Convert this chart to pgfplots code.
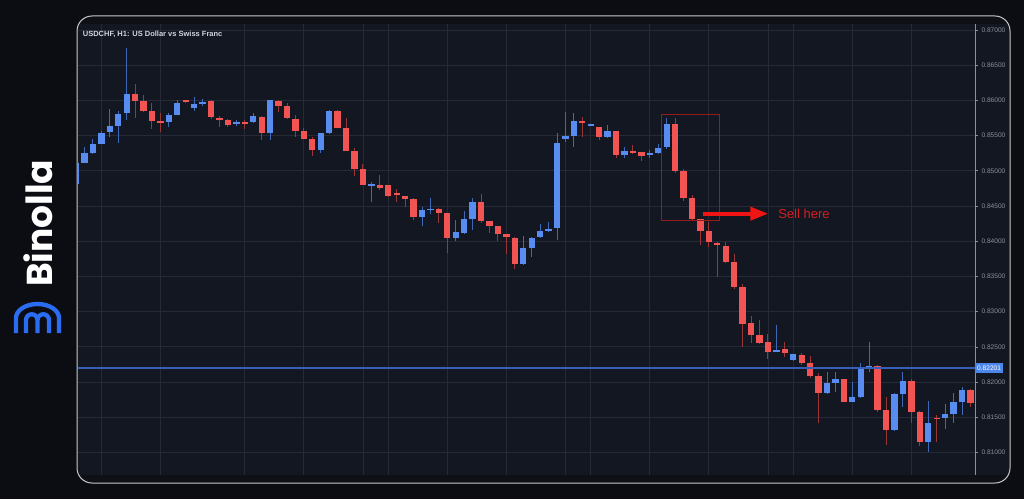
\documentclass[border=0pt]{standalone}
\usepackage{pgfplots}
\pgfplotsset{compat=1.18}
\usepackage{pgfplotstable}
\usepackage{fontspec}
\setmainfont{Liberation Sans}
\newfontfamily\poppins{Poppins}
\usetikzlibrary{arrows.meta}
\definecolor{pagebg}{RGB}{11,13,18}
\definecolor{stripbg}{RGB}{14,16,22}
\definecolor{chartbg}{RGB}{19,23,34}
\definecolor{gridc}{RGB}{38,42,55}
\definecolor{upc}{RGB}{88,140,240}
\definecolor{upw}{RGB}{62,104,185}
\definecolor{dnc}{RGB}{242,84,84}
\definecolor{dnw}{RGB}{155,54,54}
\definecolor{axlab}{RGB}{140,144,155}
\definecolor{titlec}{RGB}{210,213,220}
\definecolor{pricec}{RGB}{55,95,185}
\definecolor{pricebox}{RGB}{74,134,235}
\definecolor{boxc}{RGB}{150,28,28}
\definecolor{arrowc}{RGB}{240,20,20}
\definecolor{sellc}{RGB}{215,30,30}
\definecolor{logoblue}{RGB}{42,108,242}
\definecolor{framec}{RGB}{200,200,204}

% candles: index, open, high, low, close
\pgfplotstableread{
x o h l c
-1 0.84813 0.85125 0.84800 0.85115
0 0.85115 0.85342 0.85107 0.85249
1 0.85249 0.85447 0.85234 0.85381
2 0.85381 0.85570 0.85375 0.85541
3 0.85547 0.85874 0.85476 0.85636
4 0.85636 0.85849 0.85391 0.85807
5 0.85817 0.86744 0.85722 0.86091
10 0.85689 0.85821 0.85618 0.85793
11 0.85793 0.86006 0.85790 0.85967
13 0.85888 0.86044 0.85854 0.85953
14 0.85959 0.86024 0.85925 0.85977
18 0.85658 0.85722 0.85636 0.85689
20 0.85693 0.85817 0.85686 0.85778
22 0.85541 0.86006 0.85438 0.86001
28 0.85295 0.85537 0.85249 0.85533
29 0.85533 0.85864 0.85520 0.85854
34 0.84794 0.84837 0.84561 0.84808
40 0.84348 0.84482 0.84216 0.84439
41 0.84443 0.84618 0.84382 0.84462
44 0.84050 0.84301 0.84007 0.84126
45 0.84112 0.84429 0.84100 0.84315
46 0.84320 0.84610 0.84159 0.84561
52 0.83676 0.84078 0.83665 0.83899
53 0.83908 0.84062 0.83780 0.84053
54 0.84055 0.84240 0.84040 0.84145
55 0.84141 0.84277 0.84130 0.84178
56 0.84183 0.85533 0.84017 0.85399
57 0.85452 0.85839 0.85413 0.85490
58 0.85494 0.85817 0.85342 0.85707
60 0.85646 0.85670 0.85640 0.85665
62 0.85476 0.85651 0.85470 0.85561
64 0.85229 0.85342 0.85182 0.85286
67 0.85224 0.85295 0.85178 0.85257
68 0.85249 0.85376 0.85240 0.85328
69 0.85334 0.85750 0.85310 0.85669
82 0.82430 0.82810 0.82425 0.82455
84 0.82313 0.82395 0.82305 0.82393
88 0.81840 0.82138 0.81830 0.81990
89 0.81990 0.82146 0.81862 0.82043
91 0.81720 0.82004 0.81710 0.81791
92 0.81791 0.82266 0.81780 0.82203
93 0.82203 0.82572 0.82146 0.82227
96 0.81318 0.81840 0.81310 0.81825
97 0.81825 0.82138 0.81649 0.82014
100 0.81152 0.81730 0.81001 0.81418
102 0.81484 0.81688 0.81328 0.81541
103 0.81541 0.81848 0.81413 0.81720
104 0.81720 0.81933 0.81531 0.81891
}\upcandles

\pgfplotstableread{
x o h l c
6 0.86091 0.86233 0.85750 0.85991
7 0.85991 0.86077 0.85839 0.85854
8 0.85849 0.85959 0.85589 0.85707
9 0.85707 0.85825 0.85555 0.85683
12 0.86006 0.86013 0.85970 0.85973
15 0.85987 0.86006 0.85740 0.85760
16 0.85754 0.85783 0.85618 0.85717
17 0.85717 0.85730 0.85618 0.85658
19 0.85693 0.85722 0.85589 0.85675
21 0.85760 0.85778 0.85438 0.85541
23 0.85996 0.86006 0.85839 0.85925
24 0.85920 0.85967 0.85740 0.85746
25 0.85732 0.85793 0.85476 0.85570
26 0.85570 0.85604 0.85450 0.85456
27 0.85447 0.85476 0.85210 0.85295
30 0.85854 0.85864 0.85605 0.85612
31 0.85612 0.85746 0.85275 0.85281
32 0.85281 0.85320 0.84926 0.85026
33 0.85026 0.85097 0.84795 0.84803
35 0.84798 0.84940 0.84727 0.84763
36 0.84798 0.84805 0.84630 0.84638
37 0.84680 0.84737 0.84561 0.84652
38 0.84642 0.84650 0.84490 0.84604
39 0.84604 0.84612 0.84301 0.84348
42 0.84462 0.84470 0.84254 0.84396
43 0.84396 0.84400 0.83828 0.84041
47 0.84561 0.84670 0.84263 0.84287
48 0.84287 0.84290 0.84112 0.84216
49 0.84216 0.84220 0.84007 0.84107
50 0.84102 0.84110 0.83814 0.84060
51 0.84050 0.84060 0.83601 0.83680
59 0.85707 0.85768 0.85484 0.85679
61 0.85618 0.85625 0.85438 0.85480
63 0.85561 0.85570 0.85178 0.85229
65 0.85286 0.85366 0.85239 0.85257
66 0.85263 0.85265 0.85143 0.85210
70 0.85669 0.85750 0.84964 0.84997
71 0.84997 0.85033 0.84578 0.84621
72 0.84618 0.84656 0.84305 0.84315
73 0.84315 0.84320 0.83942 0.84149
74 0.84145 0.84277 0.83913 0.83984
75 0.83982 0.83990 0.83496 0.83943
76 0.83936 0.83993 0.83695 0.83705
77 0.83700 0.83818 0.83321 0.83354
78 0.83354 0.83388 0.82501 0.82824
79 0.82834 0.82938 0.82558 0.82668
80 0.82663 0.82881 0.82548 0.82558
81 0.82568 0.82678 0.82322 0.82426
83 0.82465 0.82564 0.82359 0.82408
85 0.82384 0.82408 0.82242 0.82277
86 0.82274 0.82369 0.82053 0.82092
87 0.82092 0.82132 0.81413 0.81848
90 0.82043 0.82050 0.81710 0.81720
94 0.82232 0.82235 0.81578 0.81602
95 0.81602 0.81783 0.81105 0.81318
98 0.82014 0.82038 0.81413 0.81578
99 0.81578 0.81590 0.81091 0.81152
101 0.81493 0.81531 0.81152 0.81479
105 0.81891 0.81900 0.81641 0.81706
}\dncandles

\begin{document}
\begin{tikzpicture}[x=1pt,y=1pt]
\fill[pagebg] (0,0) rectangle (1024,499);
\useasboundingbox (0,0) rectangle (1024,499);
\begin{scope}
  \clip[rounded corners=15pt] (77,16) rectangle (1010,483);
  \fill[stripbg] (77,16) rectangle (1010,483);
  \fill[chartbg] (77,24) rectangle (1010,475);
\end{scope}
\draw[framec, line width=1pt, rounded corners=15pt] (77,16) rectangle (1010,483);

\begin{axis}[
  at={(78pt,24pt)}, anchor=south west,
  scale only axis, width=897pt, height=451pt,
  xmin=-0.77, xmax=105.54, ymin=0.80679, ymax=0.870852,
  axis line style={draw=none},
  xtick={2,9,19,26,33,36,43,50,57,60,67,74,81,84,91,98},
  xticklabels={},
  major x tick style={draw=none},
  ytick={0.810,0.815,0.820,0.825,0.830,0.835,0.840,0.845,0.850,0.855,0.860,0.865,0.870},
  ytick pos=right, yticklabel pos=right,
  tick align=outside, major tick length=3pt,
  major y tick style={draw=axlab, line width=0.6pt},
  yticklabel style={font=\fontsize{6.6}{7}\selectfont, text=axlab,
    /pgf/number format/fixed, /pgf/number format/fixed zerofill,
    /pgf/number format/precision=5, /pgf/number format/assume math mode=true},
  grid=major, grid style={draw=gridc, line width=0.8pt},
  candle/.style={only marks, mark size=0pt, mark options={draw=none, fill=none}, forget plot},
]
% wicks
\addplot[candle,
  error bars/.cd, y dir=both, y explicit, error mark=none,
  error bar style={draw=upw, line width=1pt}]
  table[x=x, y expr={(\thisrow{h}+\thisrow{l})/2}, y error expr={(\thisrow{h}-\thisrow{l})/2}] {\upcandles};
\addplot[candle,
  error bars/.cd, y dir=both, y explicit, error mark=none,
  error bar style={draw=dnw, line width=1pt}]
  table[x=x, y expr={(\thisrow{h}+\thisrow{l})/2}, y error expr={(\thisrow{h}-\thisrow{l})/2}] {\dncandles};
% bodies
\addplot[candle,
  error bars/.cd, y dir=both, y explicit, error mark=none,
  error bar style={draw=upc, line width=6.3pt}]
  table[x=x, y expr={(\thisrow{o}+\thisrow{c})/2}, y error expr={(\thisrow{c}-\thisrow{o})/2}] {\upcandles};
\addplot[candle,
  error bars/.cd, y dir=both, y explicit, error mark=none,
  error bar style={draw=dnc, line width=6.3pt}]
  table[x=x, y expr={(\thisrow{o}+\thisrow{c})/2}, y error expr={(\thisrow{o}-\thisrow{c})/2}] {\dncandles};
% current price line
\addplot[pricec, line width=1.3pt, forget plot] coordinates {(-1,0.82201) (106,0.82201)};
% sell box and arrow
\draw[boxc, line width=1pt] (axis cs:68.33,0.85793) rectangle (axis cs:75.24,0.84291);
\draw[arrowc, line width=4pt, -{Triangle[length=18pt,width=13pt]}] (axis cs:73.34,0.84391) -- (axis cs:81.04,0.84391);
\node[anchor=west, text=sellc, font=\fontsize{13}{14}\selectfont, inner sep=0pt] at (axis cs:82.2,0.84391) {Sell here};
\coordinate (pl) at (axis cs:105.54,0.82201);
\end{axis}
\draw[axlab, line width=0.7pt] (975,24) -- (975,475);
\node[anchor=west, fill=pricebox, text=white, font=\fontsize{6.6}{7}\selectfont, inner xsep=2pt, inner ysep=2.5pt] at (pl) {0.82201};
% title
\node[anchor=base west, text=titlec, font=\bfseries\fontsize{7.5}{9}\selectfont, inner sep=0pt] at (82.7,462.5) {USDCHF, H1: US Dollar vs Swiss Franc};
% logo
\node[rotate=90, anchor=base west, text=white, font=\poppins\bfseries\fontsize{36}{36}\selectfont, inner sep=0pt] at (52.5,212) {Binolla};
\draw[logoblue, line width=4.3pt] (16,166) -- (16,181) arc[start angle=180, end angle=0, x radius=21.5, y radius=14] -- (59,166);
\draw[logoblue, line width=4.3pt] (26,166) -- (26,179) arc[start angle=180, end angle=0, radius=5.75] -- (37.5,166);
\draw[logoblue, line width=4.3pt] (37.5,179) arc[start angle=180, end angle=0, radius=5.75] -- (49,166);
\end{tikzpicture}
\end{document}
